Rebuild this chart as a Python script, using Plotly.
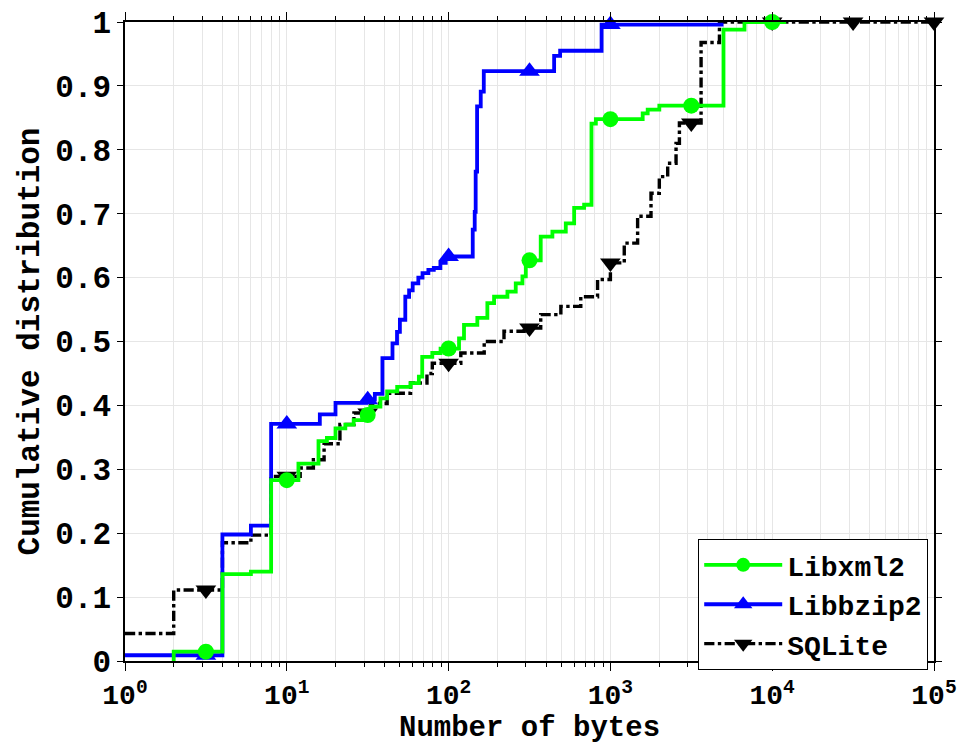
import numpy as np
import plotly.graph_objects as go

# ---- step-CDF data (x = number of bytes, y = cumulative fraction from x onward) ----
libxml2_x = [2, 2, 4, 6, 8, 11.8, 15.7, 17.7, 20, 23, 25.9, 29.9, 32.9, 37.9, 41.7, 48.1,
             58.2, 65.5, 68.7, 79.3, 89.2, 116, 124.5, 150.5, 173.6, 191, 231, 260, 286,
             300, 371, 438, 530, 597, 688, 764, 813, 1583, 1700, 2006, 5000, 6740, 12200]
libxml2_y = [0.0, 0.0146, 0.136, 0.140, 0.283, 0.309, 0.344, 0.349, 0.364, 0.370, 0.377,
             0.385, 0.398, 0.411, 0.422, 0.429, 0.435, 0.445, 0.476, 0.482, 0.489, 0.505,
             0.526, 0.537, 0.560, 0.570, 0.578, 0.591, 0.602, 0.627, 0.664, 0.672, 0.685,
             0.709, 0.714, 0.841, 0.848, 0.857, 0.863, 0.869, 0.988, 1.0, 1.0]

libbzip2_x = [1, 4, 6, 8, 16, 20, 31, 35, 39, 45, 48, 50, 54, 57, 60, 65, 69, 75, 81, 89,
              96, 141, 145, 147, 150, 158, 165, 449, 489, 882, 5000]
libbzip2_y = [0.009, 0.198, 0.212, 0.371, 0.386, 0.404, 0.409, 0.418, 0.474, 0.497, 0.515,
              0.534, 0.570, 0.580, 0.591, 0.600, 0.607, 0.612, 0.615, 0.623, 0.633, 0.675,
              0.703, 0.766, 0.868, 0.891, 0.923, 0.947, 0.955, 0.996, 0.996]

sqlite_x = [1, 2, 4, 6, 8, 12.1, 14.6, 17, 21.3, 26, 32.9, 41.7, 58.2, 73.5, 79.3, 119, 166,
            220, 293, 371, 494, 656, 833, 1000, 1218, 1473, 1782, 2006, 2260, 2545, 2670,
            3634, 4720, 100000]
sqlite_y = [0.043, 0.111, 0.185, 0.197, 0.289, 0.302, 0.315, 0.340, 0.370, 0.388, 0.403,
            0.419, 0.435, 0.450, 0.466, 0.482, 0.500, 0.516, 0.521, 0.542, 0.555, 0.570,
            0.597, 0.623, 0.654, 0.696, 0.732, 0.758, 0.779, 0.810, 0.842, 0.968, 1.0, 1.0]

# marker positions (half-decade spacing)
libxml2_marks = [10**0.5, 10, 10**1.5, 100, 10**2.5, 1000, 10**3.5, 10**4]
libbzip2_marks = [10**0.5, 10, 10**1.5, 100, 10**2.5, 1000]
sqlite_marks = [10**0.5, 10, 10**1.5, 100, 10**2.5, 1000, 10**3.5, 10**4, 10**4.5, 10**5]

x_tick_vals = [1, 10, 100, 1000, 10000, 100000]
x_tick_text = ["10<sup>0</sup>", "10<sup>1</sup>", "10<sup>2</sup>", "10<sup>3</sup>",
               "10<sup>4</sup>", "10<sup>5</sup>"]
y_tick_vals = [0, 0.1, 0.2, 0.3, 0.4, 0.5, 0.6, 0.7, 0.8, 0.9, 1]
y_tick_text = ["0", "0.1", "0.2", "0.3", "0.4", "0.5", "0.6", "0.7", "0.8", "0.9", "1"]

FONT = "Liberation Mono, Courier New, monospace"


def step_value(xs, ys, q):
    """Value of the post-step function defined by (xs, ys) at positions q."""
    xs = np.asarray(xs, float)
    ys = np.asarray(ys, float)
    idx = np.searchsorted(xs, np.asarray(q, float), side="right") - 1
    return ys[np.clip(idx, 0, len(ys) - 1)]


series = [
    # name, xs, ys, marks, color, dash, symbol, width, size
    ("SQLite", sqlite_x, sqlite_y, sqlite_marks, "#000000", "dashdot", "triangle-down", 3.4, 18),
    ("Libbzip2", libbzip2_x, libbzip2_y, libbzip2_marks, "#0000FF", "solid", "triangle-up", 3.8, 18),
    ("Libxml2", libxml2_x, libxml2_y, libxml2_marks, "#00FF00", "solid", "circle", 3.8, 16),
]

fig = go.Figure()

for name, xs, ys, marks, color, dash, symbol, width, size in series:
    fig.add_trace(go.Scatter(
        x=xs, y=ys, mode="lines", line=dict(color=color, width=width, dash=dash, shape="hv"),
        showlegend=False, hoverinfo="skip"))
    fig.add_trace(go.Scatter(
        x=marks, y=step_value(xs, ys, marks), mode="markers",
        marker=dict(color=color, symbol=symbol, size=size, line=dict(width=0)),
        showlegend=False, cliponaxis=False))

# legend entries (line + marker), listed top to bottom
for name, xs, ys, marks, color, dash, symbol, width, size in reversed(series):
    fig.add_trace(go.Scatter(
        x=[None], y=[None], mode="lines+markers", name=name,
        line=dict(color=color, width=width, dash=dash),
        marker=dict(color=color, symbol=symbol, size=size - 2)))

axis_common = dict(
    showline=True, linecolor="black", linewidth=1.5, mirror="ticks",
    ticks="outside", tickcolor="black", tickwidth=1.2,
    gridcolor="#E6E6E6", gridwidth=1, zeroline=False, automargin=False,
)

fig.update_xaxes(
    type="log", range=[0, 5], tickvals=x_tick_vals, ticktext=x_tick_text, ticklen=8,
    tickfont=dict(family=FONT, size=28, color="black", weight="bold"),
    minor=dict(ticks="outside", ticklen=4, tickcolor="black", showgrid=True,
               gridcolor="#E6E6E6", gridwidth=1, dtick="D1"),
    **axis_common,
)
fig.update_yaxes(
    range=[0, 1], tickvals=y_tick_vals, ticktext=y_tick_text, ticklen=6,
    tickfont=dict(family=FONT, size=31, color="black", weight="bold"),
    title=dict(text="Cumulative distribution",
               font=dict(family=FONT, size=31, color="black", weight="bold"), standoff=6),
    **axis_common,
)

# x-axis title placed just under the tick labels
fig.add_annotation(
    text="Number of bytes", xref="paper", yref="paper", x=0.5, y=-0.106,
    xanchor="center", yanchor="middle", showarrow=False,
    font=dict(family=FONT, size=29, color="black", weight="bold"),
)

fig.update_layout(
    width=961, height=744,
    margin=dict(l=125, r=27, t=22, b=83, autoexpand=False),
    paper_bgcolor="white", plot_bgcolor="white",
    legend=dict(x=0.9926, y=0.191, xanchor="right", yanchor="top",
                bgcolor="white", bordercolor="black", borderwidth=1.2,
                font=dict(family=FONT, size=28, color="black", weight="bold"),
                itemwidth=78, tracegroupgap=0),
    showlegend=True,
)

fig.write_html("out.html")
